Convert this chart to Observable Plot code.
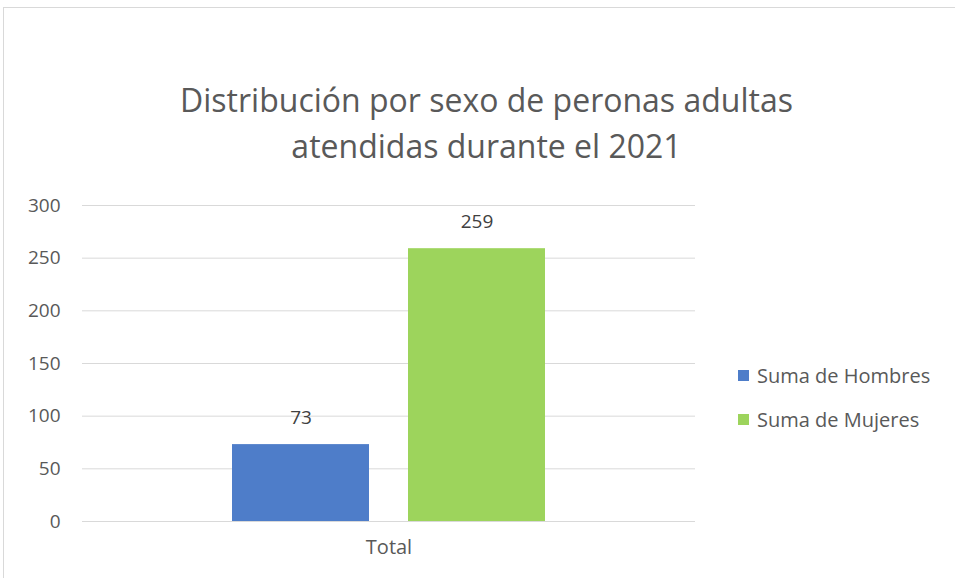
<!DOCTYPE html>
<html>
<head>
<meta charset="utf-8">
<script src="https://cdn.jsdelivr.net/npm/d3@7"></script>
<script src="https://cdn.jsdelivr.net/npm/@observablehq/plot@0.6"></script>
<style>
  html, body { margin: 0; padding: 0; background: #fff; }
  #wrap { position: relative; width: 955px; height: 578px; overflow: hidden; font-family: "Open Sans", sans-serif; }
  #frame { position: absolute; left: 3px; top: 7px; width: 970px; height: 590px; border: 1px solid #d9d9d9; box-sizing: border-box; }
  #title { position: absolute; left: 0; top: 77px; width: 973px; text-align: center; font-size: 32px; line-height: 46px; color: #595959; }
  #chart { position: absolute; left: 0; top: 0; }
  #legend { position: absolute; left: 738px; top: 362px; color: #595959; font-size: 20px; }
  .item { display: flex; align-items: center; height: 26px; margin-bottom: 18px; }
  .sw { width: 11px; height: 11px; margin-right: 8px; }
</style>
</head>
<body>
<div id="wrap">
  <div id="frame"></div>
  <div id="chart"></div>
  <div id="title">Distribución por sexo de peronas adultas<br>atendidas durante el 2021</div>
  <div id="legend"></div>
</div>
<script>
const category = "Total";
const series = ["Suma de Hombres", "Suma de Mujeres"];
const values = [73, 259];
const colors = ["#4e7dc9", "#9dd45c"];
const yTicks = [0, 50, 100, 150, 200, 250, 300];

const data = series.map((s, i) => ({cat: category, serie: s, value: values[i]}));

const plot = Plot.plot({
  width: 955,
  height: 578,
  marginLeft: 82,
  marginRight: 260,
  marginTop: 205,
  marginBottom: 57,
  style: {fontFamily: "Open Sans, sans-serif", background: "transparent"},
  fx: {domain: [category], padding: 0, label: null},
  x: {domain: series, paddingInner: 0.2216, paddingOuter: 0.852, axis: null},
  y: {domain: [0, 300], label: null},
  color: {domain: series, range: colors},
  marks: [
    Plot.gridY(yTicks, {stroke: "#d9d9d9", strokeOpacity: 1, strokeWidth: 1}),
    Plot.axisY(yTicks, {tickSize: 0, tickPadding: 22, fontSize: 19, color: "#595959", label: null}),
    Plot.axisFx({anchor: "bottom", tickSize: 0, tickPadding: 18, fontSize: 20, color: "#595959", label: null}),
    Plot.barY(data, {fx: "cat", x: "serie", y: "value", fill: "serie"}),
    Plot.text(data, {fx: "cat", x: "serie", y: "value", text: d => String(d.value), dy: -27, fontSize: 19, fill: "#404040"})
  ]
});
document.getElementById("chart").appendChild(plot);

const legend = document.getElementById("legend");
series.forEach((s, i) => {
  const item = document.createElement("div");
  item.className = "item";
  const sw = document.createElement("div");
  sw.className = "sw";
  sw.style.background = colors[i];
  const lab = document.createElement("span");
  lab.textContent = s;
  item.appendChild(sw);
  item.appendChild(lab);
  legend.appendChild(item);
});
</script>
</body>
</html>
